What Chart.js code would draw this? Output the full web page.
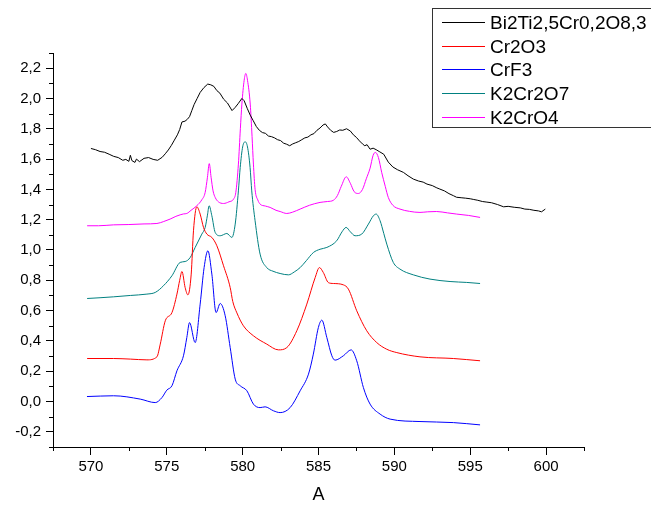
<!DOCTYPE html>
<html>
<head>
<meta charset="utf-8">
<script src="https://cdn.jsdelivr.net/npm/chart.js@4"></script>
<style>
  html, body { margin: 0; padding: 0; background: #fff; }
  #wrap { width: 651px; height: 506px; }
</style>
</head>
<body>
<div id="wrap"><canvas id="chart" width="651" height="506"></canvas></div>
<script>
// Series labels and colours (legend order)
const seriesNames = ['Bi2Ti2,5Cr0,2O8,3', 'Cr2O3', 'CrF3', 'K2Cr2O7', 'K2CrO4'];
const seriesColors = ['#000000', '#ff0000', '#0000ff', '#008080', '#ff00ff'];

// Axis ticks
const xTicks = [570, 575, 580, 585, 590, 595, 600];
const xMinor = [567.5, 572.5, 577.5, 582.5, 587.5, 592.5, 597.5, 602.5];
const yTicks = [-0.2, 0, 0.2, 0.4, 0.6, 0.8, 1.0, 1.2, 1.4, 1.6, 1.8, 2.0, 2.2];
const yMinor = [-0.3, -0.1, 0.1, 0.3, 0.5, 0.7, 0.9, 1.1, 1.3, 1.5, 1.7, 1.9, 2.1, 2.3];

// Bi2Ti2,5Cr0,2O8,3 (black, noisy)
const biX = [570.0, 570.3, 570.6, 570.9, 571.2, 571.5, 571.8, 572.1, 572.3, 572.5, 572.6, 572.7, 572.9, 573.0, 573.2, 573.5, 573.8, 574.1, 574.4, 574.7, 574.9, 575.1, 575.3, 575.5, 575.7, 575.85, 576.0, 576.2, 576.35, 576.5, 576.65, 576.8, 577.0, 577.2, 577.45, 577.7, 577.9, 578.1, 578.3, 578.5, 578.75, 579.0, 579.3, 579.5, 579.7, 579.95, 580.1, 580.3, 580.5, 580.7, 580.9, 581.1, 581.3, 581.5, 581.7, 581.9, 582.1, 582.3, 582.5, 582.7, 582.9, 583.1, 583.3, 583.5, 583.7, 583.9, 584.1, 584.3, 584.5, 584.7, 584.9, 585.1, 585.3, 585.45, 585.6, 585.8, 586.0, 586.2, 586.4, 586.6, 586.85, 587.1, 587.3, 587.5, 587.7, 587.9, 588.05, 588.2, 588.4, 588.6, 588.8, 589.0, 589.3, 589.6, 589.9, 590.2, 590.6, 590.9, 591.25, 591.6, 591.9, 592.15, 592.5, 592.8, 593.0, 593.3, 593.6, 593.9, 594.1, 594.4, 594.7, 595.0, 595.2, 595.5, 595.8, 596.1, 596.4, 596.8, 597.2, 597.5, 597.9, 598.3, 598.6, 598.9, 599.2, 599.5, 599.7, 599.95];
const biY = [1.670, 1.662, 1.650, 1.645, 1.632, 1.618, 1.610, 1.592, 1.598, 1.585, 1.625, 1.590, 1.578, 1.600, 1.583, 1.605, 1.610, 1.598, 1.592, 1.612, 1.635, 1.660, 1.690, 1.725, 1.760, 1.795, 1.845, 1.850, 1.862, 1.880, 1.920, 1.960, 2.000, 2.040, 2.072, 2.095, 2.090, 2.080, 2.052, 2.035, 1.995, 1.970, 1.920, 1.940, 1.965, 2.000, 1.985, 1.935, 1.890, 1.853, 1.815, 1.790, 1.775, 1.770, 1.752, 1.748, 1.740, 1.728, 1.722, 1.705, 1.698, 1.688, 1.700, 1.708, 1.716, 1.728, 1.740, 1.745, 1.760, 1.768, 1.790, 1.805, 1.825, 1.832, 1.812, 1.790, 1.776, 1.782, 1.792, 1.790, 1.800, 1.785, 1.760, 1.743, 1.720, 1.700, 1.688, 1.695, 1.665, 1.672, 1.662, 1.650, 1.632, 1.580, 1.548, 1.530, 1.512, 1.490, 1.468, 1.455, 1.448, 1.435, 1.425, 1.410, 1.402, 1.390, 1.372, 1.358, 1.348, 1.345, 1.342, 1.338, 1.334, 1.328, 1.320, 1.316, 1.312, 1.300, 1.285, 1.288, 1.282, 1.278, 1.270, 1.268, 1.262, 1.258, 1.252, 1.270];

// Cr2O3 (red)
const crX = [569.75, 571.5, 572.6, 573.69, 574.35, 574.57, 574.9, 575.34, 575.67, 575.85, 576.0, 576.21, 576.39, 576.61, 576.76, 576.98, 577.2, 577.42, 577.64, 577.97, 578.3, 578.74, 579.18, 579.35, 579.62, 580.05, 580.71, 581.59, 582.36, 582.91, 583.57, 584.23, 584.78, 585.06, 585.32, 585.65, 585.98, 586.64, 586.97, 587.52, 588.18, 588.84, 589.5, 590.16, 591.69, 593.89, 595.65];
const crY = [0.284, 0.284, 0.280, 0.275, 0.295, 0.379, 0.533, 0.587, 0.709, 0.800, 0.858, 0.752, 0.704, 0.841, 1.127, 1.285, 1.237, 1.149, 1.105, 1.083, 1.028, 0.896, 0.752, 0.660, 0.585, 0.500, 0.434, 0.379, 0.341, 0.356, 0.467, 0.643, 0.818, 0.884, 0.851, 0.785, 0.779, 0.770, 0.742, 0.599, 0.467, 0.389, 0.345, 0.323, 0.295, 0.284, 0.269];

// CrF3 (blue)
const cfX = [569.74, 571.49, 573.25, 574.24, 574.68, 575.0, 575.34, 575.67, 576.1, 576.32, 576.5, 576.87, 577.2, 577.46, 577.71, 577.97, 578.25, 578.52, 578.85, 579.18, 579.51, 579.84, 580.28, 580.71, 581.15, 581.48, 582.03, 582.47, 583.13, 583.79, 584.34, 584.66, 584.99, 585.22, 585.55, 585.88, 586.09, 586.64, 587.15, 587.52, 587.96, 588.4, 589.06, 589.72, 591.69, 593.89, 595.65];
const cfY = [0.033, 0.038, 0.016, -0.007, 0.026, 0.075, 0.104, 0.203, 0.302, 0.422, 0.521, 0.389, 0.643, 0.884, 0.995, 0.841, 0.587, 0.647, 0.566, 0.356, 0.148, 0.104, 0.071, -0.017, -0.040, -0.035, -0.061, -0.073, -0.040, 0.071, 0.181, 0.313, 0.488, 0.537, 0.422, 0.302, 0.273, 0.302, 0.341, 0.269, 0.092, -0.017, -0.083, -0.116, -0.132, -0.139, -0.154];

// K2Cr2O7 (teal)
const kdX = [569.75, 570.6, 571.5, 572.6, 573.69, 574.24, 574.78, 575.34, 575.88, 576.21, 576.54, 576.87, 577.31, 577.53, 577.68, 577.79, 577.97, 578.19, 578.52, 578.96, 579.29, 579.51, 579.72, 579.84, 580.0, 580.17, 580.32, 580.49, 580.6, 580.82, 581.15, 581.59, 582.0, 582.47, 583.02, 583.4, 583.79, 584.2, 584.66, 585.1, 585.55, 586.2, 586.55, 586.82, 587.1, 587.41, 587.85, 588.29, 588.62, 588.8, 589.06, 589.3, 589.5, 589.93, 590.37, 591.25, 592.35, 593.67, 594.77, 595.65];
const kdY = [0.680, 0.685, 0.691, 0.700, 0.709, 0.720, 0.764, 0.830, 0.918, 0.924, 0.950, 1.017, 1.105, 1.149, 1.230, 1.292, 1.226, 1.116, 1.094, 1.109, 1.083, 1.171, 1.390, 1.545, 1.680, 1.714, 1.680, 1.545, 1.390, 1.193, 0.973, 0.884, 0.860, 0.845, 0.836, 0.855, 0.884, 0.930, 0.983, 1.005, 1.017, 1.061, 1.120, 1.149, 1.120, 1.094, 1.105, 1.171, 1.226, 1.237, 1.193, 1.110, 1.039, 0.918, 0.874, 0.836, 0.808, 0.792, 0.786, 0.779];

// K2CrO4 (magenta)
const kcX = [569.75, 570.5, 571.5, 572.5, 573.5, 574.35, 574.8, 575.22, 575.6, 575.88, 576.1, 576.32, 576.6, 576.98, 577.3, 577.53, 577.68, 577.8, 577.92, 578.05, 578.2, 578.4, 578.74, 579.1, 579.4, 579.55, 579.72, 579.85, 579.95, 580.1, 580.21, 580.32, 580.5, 580.62, 580.71, 580.82, 581.0, 581.15, 581.5, 581.81, 582.2, 582.47, 582.91, 583.3, 583.79, 584.4, 585.1, 585.6, 585.98, 586.25, 586.5, 586.83, 587.1, 587.35, 587.63, 587.9, 588.15, 588.4, 588.6, 588.75, 588.95, 589.17, 589.4, 589.6, 589.9, 590.37, 591.0, 591.69, 592.2, 592.79, 593.5, 594.11, 594.9, 595.65];
const kcY = [1.160, 1.160, 1.166, 1.168, 1.172, 1.175, 1.188, 1.204, 1.222, 1.232, 1.238, 1.241, 1.262, 1.292, 1.330, 1.380, 1.480, 1.570, 1.480, 1.390, 1.345, 1.318, 1.307, 1.318, 1.336, 1.380, 1.567, 1.800, 1.963, 2.120, 2.165, 2.120, 1.963, 1.750, 1.567, 1.400, 1.330, 1.303, 1.290, 1.281, 1.262, 1.254, 1.241, 1.250, 1.270, 1.295, 1.314, 1.320, 1.328, 1.360, 1.420, 1.483, 1.440, 1.385, 1.373, 1.400, 1.470, 1.540, 1.625, 1.644, 1.610, 1.510, 1.420, 1.347, 1.295, 1.270, 1.255, 1.248, 1.252, 1.254, 1.245, 1.237, 1.228, 1.215];

const seriesX = [biX, crX, cfX, kdX, kcX];
const seriesY = [biY, crY, cfY, kdY, kcY];

const FONT = "'Liberation Sans', Arial, sans-serif";

// minor ticks along both axes
const minorTicks = {
  id: 'minorTicks',
  afterDraw(chart) {
    const { ctx, chartArea, scales } = chart;
    ctx.save();
    ctx.strokeStyle = '#000';
    ctx.lineWidth = 1;
    ctx.beginPath();
    xMinor.forEach(v => {
      const px = Math.round(scales.x.getPixelForValue(v)) + 0.5;
      ctx.moveTo(px, chartArea.bottom);
      ctx.lineTo(px, chartArea.bottom + 4);
    });
    yMinor.forEach(v => {
      const py = Math.round(scales.y.getPixelForValue(v)) + 0.5;
      ctx.moveTo(chartArea.left, py);
      ctx.lineTo(chartArea.left - 4, py);
    });
    ctx.stroke();
    ctx.restore();
  }
};

// boxed legend at top right
const boxLegend = {
  id: 'boxLegend',
  afterDraw(chart) {
    const ctx = chart.ctx;
    ctx.save();
    ctx.strokeStyle = '#333';
    ctx.lineWidth = 1;
    ctx.strokeRect(432.5, 8.5, 230, 119);
    ctx.font = '19px ' + FONT;
    ctx.textBaseline = 'middle';
    ctx.textAlign = 'left';
    seriesNames.forEach((name, i) => {
      const y = Math.round(22 + i * 23.7) + 0.5;
      ctx.beginPath();
      ctx.strokeStyle = seriesColors[i];
      ctx.lineWidth = 1;
      ctx.moveTo(442, y);
      ctx.lineTo(485, y);
      ctx.stroke();
      ctx.fillStyle = '#000';
      ctx.fillText(name, 490, y + 1);
    });
    ctx.restore();
  }
};

new Chart(document.getElementById('chart'), {
  type: 'line',
  data: {
    datasets: seriesNames.map((name, i) => ({
      label: name,
      data: seriesX[i].map((x, j) => ({ x: x, y: seriesY[i][j] })),
      borderColor: seriesColors[i],
      borderWidth: 1,
      pointRadius: 0,
      fill: false,
      tension: i === 0 ? 0 : undefined,
      cubicInterpolationMode: i === 0 ? 'default' : 'monotone'
    }))
  },
  options: {
    responsive: false,
    animation: false,
    layout: { padding: { left: 0, top: 53, right: 67, bottom: 0 } },
    plugins: { legend: { display: false }, tooltip: { enabled: false } },
    scales: {
      x: {
        type: 'linear',
        min: 567.5,
        max: 602.5,
        afterBuildTicks: s => { s.ticks = xTicks.map(v => ({ value: v })); },
        afterFit: s => { s.height = 59; },
        grid: { drawOnChartArea: false, drawTicks: true, tickLength: 8, color: '#000' },
        border: { color: '#000', width: 1 },
        ticks: { color: '#000', padding: 3, font: { family: FONT, size: 15 }, maxRotation: 0,
                 callback: v => String(v) },
        title: { display: true, text: 'A', color: '#000', font: { family: FONT, size: 18 },
                 padding: { top: 0, bottom: 0 } }
      },
      y: {
        type: 'linear',
        min: -0.3,
        max: 2.3,
        afterBuildTicks: s => { s.ticks = yTicks.map(v => ({ value: v })); },
        afterFit: s => { s.width = 53; },
        grid: { drawOnChartArea: false, drawTicks: true, tickLength: 7, color: '#000' },
        border: { color: '#000', width: 1 },
        ticks: { color: '#000', padding: 5, font: { family: FONT, size: 15 },
                 callback: v => v.toFixed(1).replace('.', ',') }
      }
    }
  },
  plugins: [minorTicks, boxLegend]
});
</script>
</body>
</html>
